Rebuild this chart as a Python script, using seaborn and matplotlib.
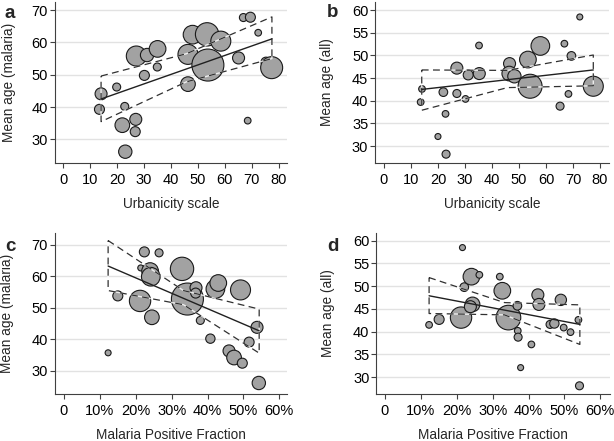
import numpy as np
import pandas as pd
import matplotlib
matplotlib.use("Agg")
import matplotlib.pyplot as plt
import seaborn as sns
from matplotlib.ticker import FuncFormatter

# Panel a: urbanicity vs mean age (malaria)
urb_a = [14.0, 13.4, 19.8, 22.8, 21.9, 26.9, 26.7, 23.0, 27.1, 31.1, 35.0, 30.1, 34.9,
         48.0, 53.4, 58.5, 46.3, 46.3, 53.7, 65.1, 66.9, 69.5, 72.4, 68.5, 75.3, 77.4]
age_a = [44.1, 39.3, 46.2, 40.2, 34.4, 36.2, 32.4, 26.2, 55.8, 56.1, 58.0, 49.8, 52.4,
         62.4, 62.5, 60.4, 56.3, 47.1, 53.0, 55.2, 67.7, 67.8, 63.0, 35.8, 53.9, 52.2]
rad_a = [18, 15, 12, 12, 22, 18, 15, 20, 30, 20, 25, 15, 12,
         28, 35, 30, 30, 22, 48, 18, 12, 15, 10, 10, 15, 33]
fit_a_x, fit_a_y = [14.0, 77.5], [42.5, 61.1]
ci_a_x, ci_a_lo, ci_a_hi = [14.0, 45.7, 77.5], [35.5, 47.8, 55.0], [49.6, 56.5, 67.9]

# Panel b: urbanicity vs mean age (all)
urb_b = [14.1, 13.6, 22.0, 22.8, 20.0, 23.0, 27.0, 27.0, 31.2, 30.2, 35.3, 35.2,
         46.5, 46.4, 48.3, 53.3, 57.9, 54.1, 65.2, 66.8, 69.4, 68.3, 72.5, 77.5]
age_b = [42.6, 39.7, 41.9, 37.1, 32.1, 28.2, 47.2, 41.6, 45.7, 40.4, 46.0, 52.2,
         48.2, 46.0, 45.4, 49.1, 52.1, 43.2, 38.8, 52.6, 49.9, 41.5, 58.5, 43.2]
rad_b = [10, 10, 13, 10, 9, 12, 18, 12, 15, 10, 18, 10,
         18, 22, 20, 25, 28, 36, 12, 10, 13, 10, 9, 30]
fit_b_x, fit_b_y = [14.0, 77.5], [42.5, 46.8]
ci_b_x, ci_b_lo, ci_b_hi = [14.0, 45.7, 77.5], [37.9, 42.9, 43.3], [46.8, 46.7, 50.1]

# Panel c: malaria positive fraction (%) vs mean age (malaria)
mpf_c = [12.3, 15.0, 22.4, 26.5, 21.4, 24.0, 24.2, 21.2, 24.5, 32.9, 34.4, 36.8,
         36.7, 38.0, 42.2, 43.0, 49.2, 40.8, 46.0, 47.4, 49.7, 51.6, 53.8, 54.3]
age_c = [35.7, 53.8, 67.8, 67.5, 62.7, 61.7, 59.9, 52.2, 47.0, 62.4, 52.8, 56.4,
         54.7, 46.0, 56.0, 57.9, 55.7, 40.2, 36.3, 34.2, 32.4, 39.1, 43.8, 26.1]
rad_c = [9, 15, 15, 12, 9, 25, 28, 32, 22, 35, 48, 18,
         15, 12, 28, 25, 30, 14, 18, 22, 15, 15, 18, 20]
fit_c_x, fit_c_y = [12.3, 54.4], [63.3, 42.7]
ci_c_x, ci_c_lo, ci_c_hi = [12.3, 33.3, 54.4], [55.5, 51.0, 35.6], [71.4, 55.5, 49.6]

# Panel d: malaria positive fraction (%) vs mean age (all)
mpf_d = [12.3, 15.1, 21.2, 21.6, 22.1, 24.1, 26.3, 24.4, 23.8, 32.0, 32.7, 34.4, 36.9,
         37.0, 37.1, 37.8, 40.8, 42.6, 42.9, 49.0, 46.0, 47.2, 49.8, 51.7, 53.9, 54.2]
age_d = [41.5, 42.7, 43.1, 58.5, 49.8, 52.1, 52.5, 46.0, 45.5, 52.1, 49.0, 43.1, 45.7,
         40.2, 38.8, 32.1, 37.2, 48.1, 46.0, 47.0, 41.6, 41.8, 40.9, 39.9, 42.6, 28.1]
rad_d = [10, 15, 32, 9, 13, 25, 10, 22, 18, 10, 25, 37, 13,
         10, 12, 9, 10, 18, 18, 17, 12, 14, 10, 10, 10, 12]
fit_d_x, fit_d_y = [12.3, 54.3], [47.9, 41.6]
ci_d_x, ci_d_lo, ci_d_hi = [12.3, 33.3, 54.3], [44.0, 43.7, 37.2], [51.9, 46.4, 45.9]

sns.set_style("white")
plt.rcParams["font.family"] = ["Liberation Sans", "DejaVu Sans"]

fig = plt.figure(figsize=(6.14, 4.41), dpi=100)
axes = {
    "a": fig.add_axes([0.0888, 0.6304, 0.3786, 0.365]),
    "b": fig.add_axes([0.6112, 0.6304, 0.3806, 0.365]),
    "c": fig.add_axes([0.0896, 0.1066, 0.3775, 0.365]),
    "d": fig.add_axes([0.6129, 0.1066, 0.3806, 0.365]),
}

panels = {
    "a": dict(x=urb_a, y=age_a, r=rad_a, fx=fit_a_x, fy=fit_a_y, cx=ci_a_x, lo=ci_a_lo, hi=ci_a_hi,
              xlim=(-3.3, 83.1), ylim=(22.7, 72.5), xt=range(0, 81, 10), yt=range(30, 71, 10),
              xlabel="Urbanicity scale", ylabel="Mean age (malaria)", pct=False, ylx=-0.166),
    "b": dict(x=urb_b, y=age_b, r=rad_b, fx=fit_b_x, fy=fit_b_y, cx=ci_b_x, lo=ci_b_lo, hi=ci_b_hi,
              xlim=(-3.2, 83.3), ylim=(26.25, 61.8), xt=range(0, 81, 10), yt=range(30, 61, 5),
              xlabel="Urbanicity scale", ylabel="Mean age (all)", pct=False, ylx=-0.177),
    "c": dict(x=mpf_c, y=age_c, r=rad_c, fx=fit_c_x, fy=fit_c_y, cx=ci_c_x, lo=ci_c_lo, hi=ci_c_hi,
              xlim=(-2.5, 62.1), ylim=(22.6, 73.8), xt=range(0, 61, 10), yt=range(30, 71, 10),
              xlabel="Malaria Positive Fraction", ylabel="Mean age (malaria)", pct=True, ylx=-0.175),
    "d": dict(x=mpf_d, y=age_d, r=rad_d, fx=fit_d_x, fy=fit_d_y, cx=ci_d_x, lo=ci_d_lo, hi=ci_d_hi,
              xlim=(-2.4, 62.7), ylim=(26.3, 61.7), xt=range(0, 61, 10), yt=range(30, 61, 5),
              xlabel="Malaria Positive Fraction", ylabel="Mean age (all)", pct=True, ylx=-0.177),
}

for key, p in panels.items():
    ax = axes[key]
    df = pd.DataFrame({"x": p["x"], "y": p["y"], "r": p["r"]})
    # bubble radius (px at 3x zoom) -> marker area in pt^2
    s = (0.48 * df["r"]) ** 2
    sns.scatterplot(data=df, x="x", y="y", s=s, color="#a2a2a2", edgecolor="#1a1a1a",
                    linewidth=0.8, ax=ax, zorder=2, legend=False)

    # CI band outline: upper, right edge, lower, left edge
    bx = list(p["cx"]) + list(p["cx"][::-1]) + [p["cx"][0]]
    by = list(p["hi"]) + list(p["lo"][::-1]) + [p["hi"][0]]
    ax.plot(bx, by, color="white", lw=1.0, alpha=0.8, zorder=3)
    ax.plot(bx, by, color="#303030", lw=0.9, dashes=(5.5, 3.5), zorder=4)
    sns.lineplot(x=p["fx"], y=p["fy"], color="#202020", lw=1.0, ax=ax, zorder=5)

    ax.set_xlim(*p["xlim"])
    ax.set_ylim(*p["ylim"])
    ax.set_xticks(list(p["xt"]))
    ax.set_yticks(list(p["yt"]))
    if p["pct"]:
        ax.xaxis.set_major_formatter(FuncFormatter(lambda v, _: "0" if v == 0 else f"{v:.0f}%"))
    ax.yaxis.grid(True, color="#e2e2e2", lw=1.0)
    ax.set_axisbelow(True)
    for side in ["top", "right"]:
        ax.spines[side].set_visible(False)
    for side in ["left", "bottom"]:
        ax.spines[side].set_color("#404040")
        ax.spines[side].set_linewidth(0.8)
    ax.tick_params(axis="both", direction="out", length=3.5, width=0.8, color="#404040",
                   labelsize=10.5, labelcolor="black", left=True, bottom=True)
    ax.tick_params(axis="y", pad=1.5)
    ax.tick_params(axis="x", pad=3.5)
    ax.set_xlabel(p["xlabel"], fontsize=9.8)
    ax.set_ylabel(p["ylabel"], fontsize=9.8)
    ax.xaxis.set_label_coords(0.5, -0.21)
    ax.yaxis.set_label_coords(p["ylx"], 0.5)

fig.text(0.008, 0.97, "a", fontsize=13.5, fontweight="bold", va="center")
fig.text(0.533, 0.972, "b", fontsize=13.5, fontweight="bold", va="center")
fig.text(0.008, 0.44, "c", fontsize=13.5, fontweight="bold", va="center")
fig.text(0.533, 0.44, "d", fontsize=13.5, fontweight="bold", va="center")

fig.savefig("out.png", dpi=100)
